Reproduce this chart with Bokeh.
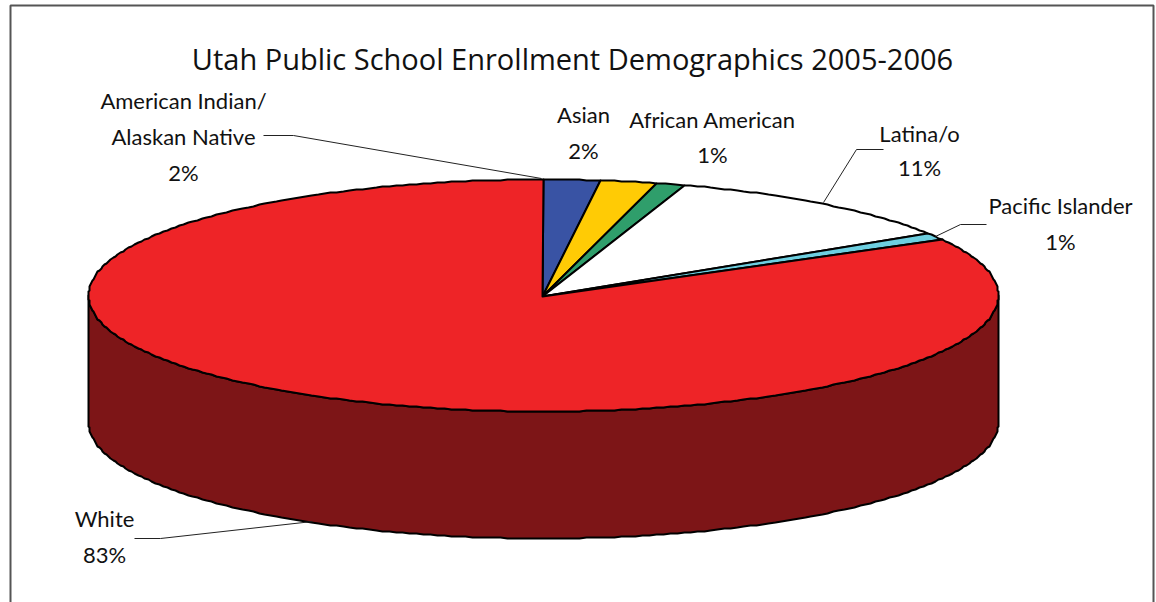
import math

from bokeh.core.properties import value
from bokeh.embed import file_html
from bokeh.plotting import figure
from bokeh.resources import INLINE

# Enrollment shares, in drawing order clockwise from twelve o'clock
groups = ["American Indian/\nAlaskan Native", "Asian", "African American",
          "Latina/o", "Pacific Islander", "White"]
shares = [2, 2, 1, 11, 1, 83]
chart_title = "Utah Public School Enrollment Demographics 2005-2006"

top_colors = ["#3953A4", "#FFCB05", "#2F9E6B", "#FFFFFF", "#6DCFE0", "#EE2427"]
side_color = "#7D1517"

# Tilted disc geometry, in page pixels
CX, CY, RX, RY, DEPTH = 543, 295, 455, 116, 127

# Centre of the first line of each label, its line spacing, and the leader path
label_layout = [
    (183, 100, 36, [(263, 135), (293, 135), (541, 178)]),
    (583, 114, 36, None),
    (712, 119, 35, None),
    (919, 133, 34, [(883, 149), (856, 149), (823, 202)]),
    (1060, 205, 36, [(986, 224), (960, 224), (935, 236)]),
    (104, 518, 36, [(134, 538), (160, 538), (312, 521)]),
]


def rim_point(turn_deg, drop=0.0):
    """Rim position for an angle measured clockwise from the top, snapped to
    whole pixels so the outline keeps its slightly stepped edge."""
    t = math.radians(turn_deg)
    return round(CX + RX * math.sin(t)), round(CY - RY * math.cos(t) + drop)


def rim_arc(start, end, drop=0.0, step=0.9):
    n = max(1, int(abs(end - start) / step))
    return [rim_point(start + (end - start) * i / n, drop) for i in range(n + 1)]


p = figure(width=1156, height=602, x_range=(0, 1156), y_range=(602, 0),
           output_backend="svg", toolbar_location=None, min_border=0)
p.axis.visible = False
p.grid.visible = False
p.outline_line_color = None
p.background_fill_color = "white"

# Frame, open along the bottom edge
p.line([10, 10, 1153, 1153], [602, 5, 5, 602], line_color="#555555", line_width=2)

# Wall of the disc, then the top face, slice by slice
total = sum(shares)
angle = 0.0
spans = []
for share in shares:
    spans.append((angle, angle + share / total * 360))
    angle = spans[-1][1]

for (a, b) in spans:
    lo, hi = max(a, 90), min(b, 270)
    if lo < hi:
        pts = rim_arc(lo, hi) + rim_arc(hi, lo, DEPTH)
        p.patch([q[0] for q in pts], [q[1] for q in pts], fill_color=side_color,
                line_color="black", line_width=2, line_join="round")

for (a, b), color in zip(spans, top_colors):
    pts = [(CX - 1, CY + 1)] + rim_arc(a, b)
    p.patch([q[0] for q in pts], [q[1] for q in pts], fill_color=color,
            line_color="black", line_width=2, line_join="round")

# Leader lines
for (_, _, _, path) in label_layout:
    if path:
        p.line([q[0] for q in path], [q[1] for q in path], line_color="#222222", line_width=1)

# Title and labels
p.text([572], [58], text=[chart_title], text_font=value("Open Sans"), text_font_size="29px",
       text_color="#111111", text_align="center", text_baseline="middle")

label_font = value("Lato")
for name, share, (lx, ly, gap, _) in zip(groups, shares, label_layout):
    rows = name.split("\n") + [f"{share}%"]
    p.text([lx] * len(rows), [ly + gap * i for i in range(len(rows))], text=rows,
           text_font=label_font, text_font_size="22px", text_color="#111111",
           text_align="center", text_baseline="middle")

open("out.html", "w").write(file_html(p, INLINE))
